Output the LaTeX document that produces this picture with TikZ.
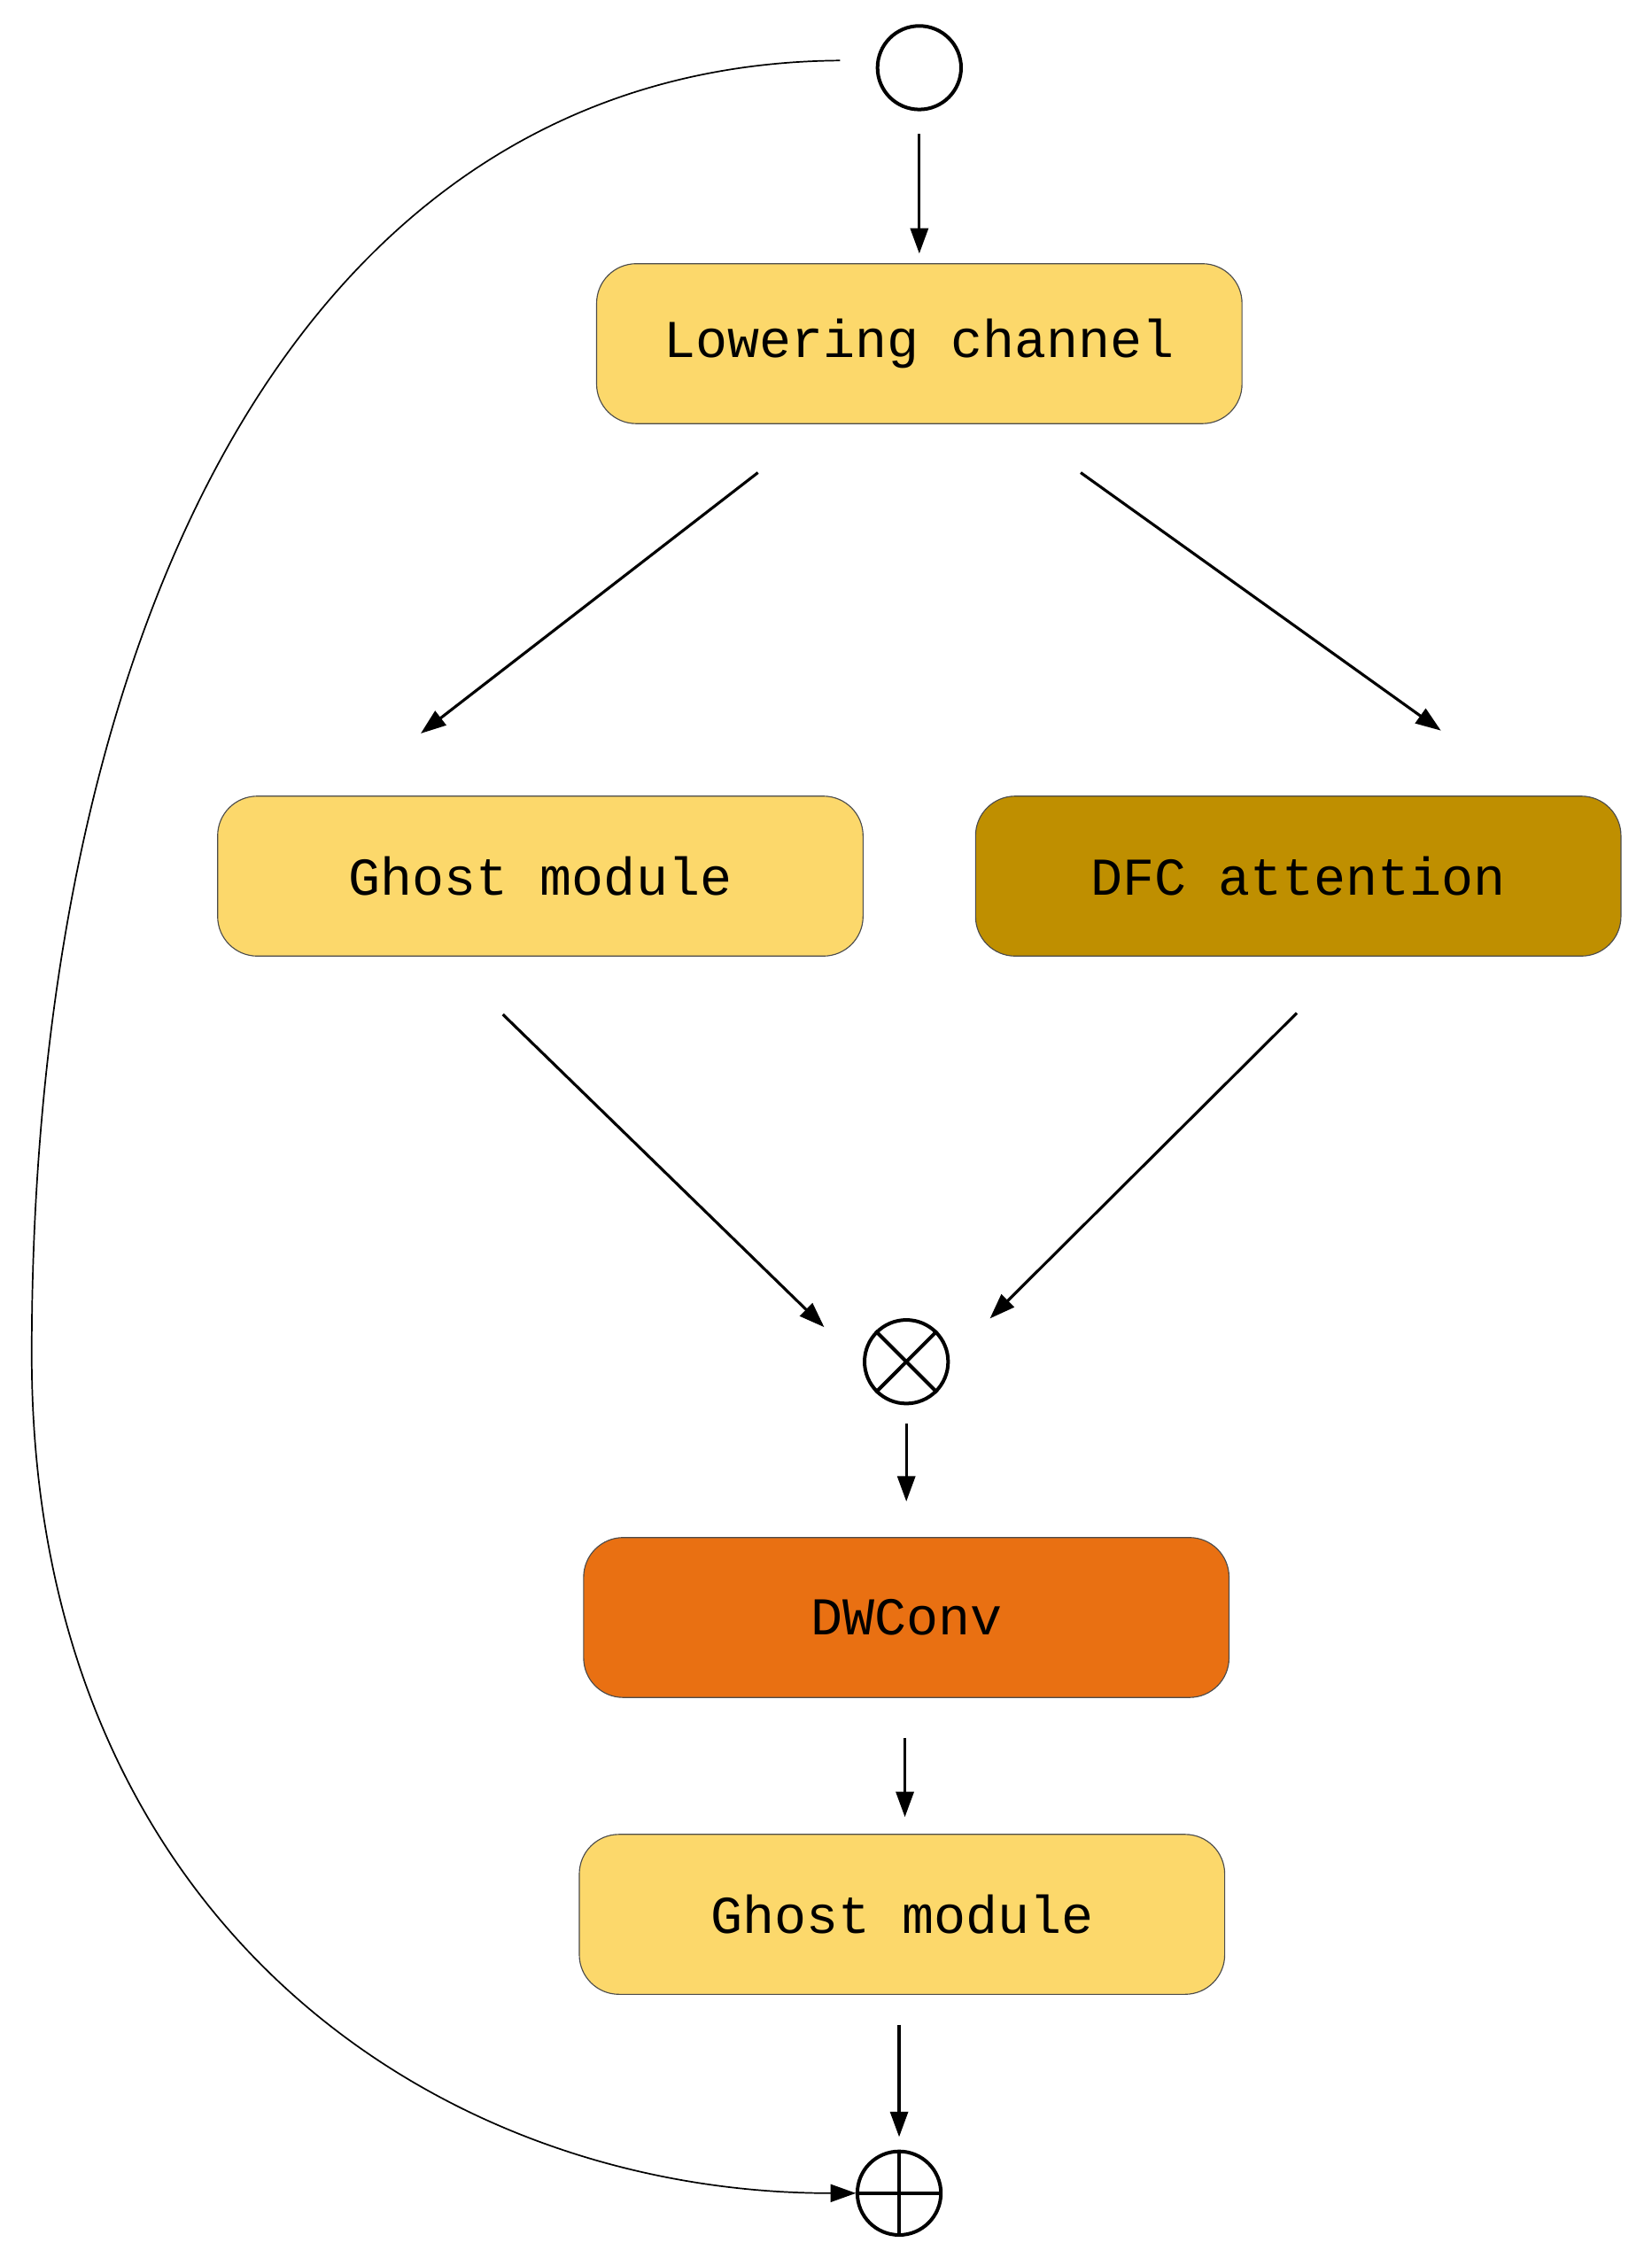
\documentclass[tikz,border=0pt]{standalone}
\usepackage{fontspec}
\setmonofont{Liberation Mono}
\usetikzlibrary{arrows.meta}
\begin{document}
\begin{tikzpicture}[x=0.02cm,y=-0.02cm,
  box/.style={draw=black!70,line width=0.4pt,rounded corners=0.55cm,minimum width=8.96cm,minimum height=2.22cm,font=\fontsize{21}{24}\selectfont\ttfamily,inner sep=0pt},
  op/.style={circle,draw,line width=1.4pt,minimum size=1.16cm,inner sep=0pt},
  arr/.style={line width=1.1pt,-{Triangle[length=10pt,width=7pt]}}]
\useasboundingbox (0,0) rectangle (1146,1567);
\definecolor{ylw}{HTML}{FCD86B}
\definecolor{dfc}{HTML}{BF8F00}
\definecolor{org}{HTML}{E97012}
\node[op] (in) at (638,47) {};
\node[box,fill=ylw] (low) at (638,238.5) {Lowering channel};
\node[box,fill=ylw] (g1) at (375,608) {Ghost module};
\node[box,fill=dfc] (dfc) at (901,608) {DFC attention};
\node[op] (mul) at (629,945) {};
\draw[line width=1.4pt] (mul.45) -- (mul.225) (mul.135) -- (mul.315);
\node[box,fill=org] (dw) at (629,1122.5) {DWConv};
\node[box,fill=ylw] (g2) at (626,1328.5) {Ghost module};
\node[op] (add) at (624,1522) {};
\draw[line width=1.4pt] (add.north) -- (add.south) (add.west) -- (add.east);
\coordinate (a1) at (638,93); \coordinate (a2) at (638,176);
\coordinate (b1) at (526,328); \coordinate (b2) at (292,509);
\coordinate (c1) at (750,328); \coordinate (c2) at (1000,507);
\coordinate (d1) at (349,704); \coordinate (d2) at (572,921);
\coordinate (e1) at (900,703); \coordinate (e2) at (687,915);
\coordinate (f1) at (629,988); \coordinate (f2) at (629,1042);
\coordinate (h1) at (628,1206); \coordinate (h2) at (628,1261);
\coordinate (k1) at (624,1405); \coordinate (k2) at (624,1483);
\coordinate (s) at (583,42); \coordinate (m) at (22,940); \coordinate (t) at (594,1522);
\draw[arr] (a1) -- (a2);
\draw[arr] (b1) -- (b2);
\draw[arr] (c1) -- (c2);
\draw[arr] (d1) -- (d2);
\draw[arr] (e1) -- (e2);
\draw[arr] (f1) -- (f2);
\draw[arr] (h1) -- (h2);
\draw[arr] (k1) -- (k2);
\draw[line width=0.6pt,-{Triangle[length=10pt,width=7pt]}] (s) .. controls (200,45) and (22,450) .. (m) .. controls (22,1330) and (300,1522) .. (t);
\end{tikzpicture}
\end{document}
